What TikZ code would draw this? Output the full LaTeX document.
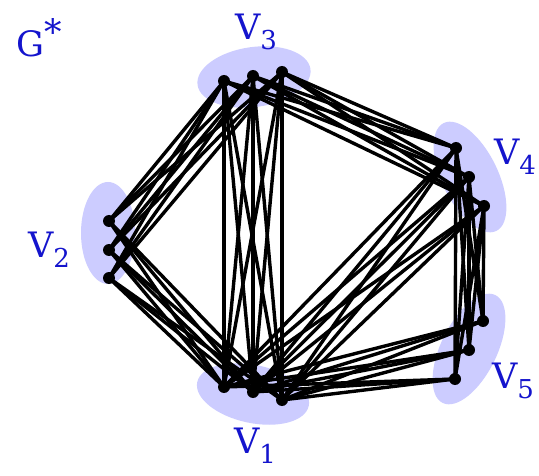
\documentclass[tikz,border=0pt]{standalone}
\usepackage{fontspec}
\newfontfamily\labfont{DejaVu Serif}
\usetikzlibrary{shapes.geometric}
\definecolor{blobc}{RGB}{204,204,255}
\definecolor{labc}{RGB}{20,20,205}
\newcommand{\lbl}[2]{#1\raisebox{-0.28em}{\fontsize{26}{28}\selectfont #2}}
\begin{document}
\begin{tikzpicture}[x=1pt,y=1pt,
  vtx/.style={circle,fill=black,inner sep=0pt,minimum size=12pt},
  blob/.style={ellipse,fill=blobc,inner sep=0pt},
  edge/.style={line width=3.4pt,black},
  lab/.style={text=labc,font=\labfont\fontsize{35}{38}\selectfont,inner sep=0pt}]
\fill[white] (0,0) rectangle (539,475);
\useasboundingbox (0,0) rectangle (539,475);
% blobs
\node[blob,minimum width=114pt,minimum height=60pt,rotate=8] (b3) at (254,398) {};
\node[blob,minimum width=54pt,minimum height=102pt] (b2) at (108,242) {};
\node[blob,minimum width=114pt,minimum height=58pt,rotate=-12] (b1) at (253,81) {};
\node[blob,minimum width=120pt,minimum height=56pt,rotate=-64] (b4) at (470,298) {};
\node[blob,minimum width=120pt,minimum height=56pt,rotate=64] (b5) at (469,126) {};
% vertex positions
\coordinate (c31) at (224,394); \coordinate (c32) at (253,399); \coordinate (c33) at (282,403);
\coordinate (c21) at (109,254); \coordinate (c22) at (109,225); \coordinate (c23) at (109,197);
\coordinate (c11) at (224,88);  \coordinate (c12) at (253,83);  \coordinate (c13) at (282,75);
\coordinate (c41) at (456,327); \coordinate (c42) at (469,298); \coordinate (c43) at (484,269);
\coordinate (c51) at (483,154); \coordinate (c52) at (469,125); \coordinate (c53) at (455,96);
% edges
\foreach \p/\q in {2/3,2/1,3/1,3/4,1/4,1/5,4/5}{
  \foreach \i in {1,2,3}{
    \foreach \j in {1,2,3}{
      \draw[edge] (c\p\i) -- (c\q\j);
    }
  }
}
% vertex dots
\foreach \p in {1,...,5}{
  \foreach \i in {1,2,3}{
    \node[vtx] (v\p\i) at (c\p\i) {};
  }
}
% labels
\node[lab] (lg) at (39,437) {G\raisebox{0.35em}{*}};
\node[lab] (l3) at (256,443) {\lbl{V}{3}};
\node[lab] (l2) at (49,225) {\lbl{V}{2}};
\node[lab] (l1) at (255,29) {\lbl{V}{1}};
\node[lab] (l4) at (515,318) {\lbl{V}{4}};
\node[lab] (l5) at (513,94) {\lbl{V}{5}};
\end{tikzpicture}
\end{document}
